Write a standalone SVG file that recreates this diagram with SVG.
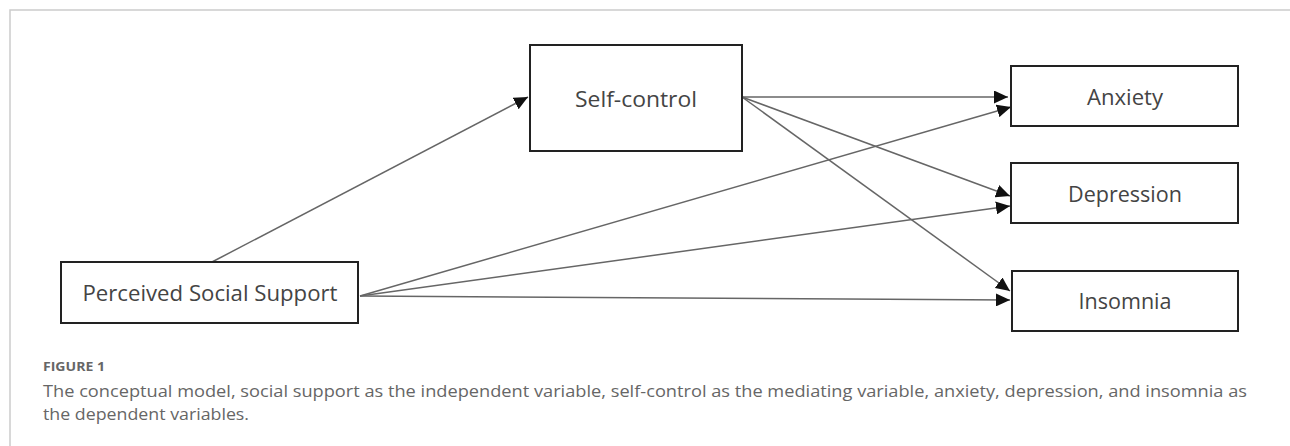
<svg xmlns="http://www.w3.org/2000/svg" width="1290" height="446" viewBox="0 0 1290 446">
<defs>
<marker id="ah" markerUnits="userSpaceOnUse" markerWidth="15" markerHeight="13" refX="14" refY="6.5" orient="auto">
<path d="M0,0 L14,6.5 L0,13 z" fill="#111"/>
</marker>
<style>
.box{fill:#fff;stroke:#222;stroke-width:2}
.lbl{font-family:"Open Sans","Noto Sans",sans-serif;font-size:22px;fill:#444;text-anchor:middle}
.edge{stroke:#666;stroke-width:1.5;fill:none;marker-end:url(#ah)}
.frame{stroke:#ccc;stroke-width:1.5;fill:none}
.cap{font-family:"Open Sans","Noto Sans",sans-serif;font-size:17px;fill:#666}
.fig{font-family:"Open Sans","Noto Sans",sans-serif;font-size:13px;font-weight:bold;fill:#666}
</style>
</defs>
<rect width="1290" height="446" fill="#fff"/>
<path class="frame" d="M10,446 L10,10 L1290,10"/>
<g id="connectors">
<line class="edge" x1="212" y1="262" x2="528" y2="97"/>
<line class="edge" x1="742" y1="97" x2="1008" y2="97"/>
<line class="edge" x1="742" y1="97" x2="1010" y2="196"/>
<line class="edge" x1="742" y1="97" x2="1010" y2="291"/>
<line class="edge" x1="360" y1="296" x2="1011" y2="107"/>
<line class="edge" x1="360" y1="296" x2="1010" y2="206"/>
<line class="edge" x1="360" y1="296" x2="1010" y2="300"/>
</g>
<g id="pss">
<rect class="box" x="61" y="262" width="297" height="61"/>
<text class="lbl" x="210" y="301" textLength="255" lengthAdjust="spacingAndGlyphs">Perceived Social Support</text>
</g>
<g id="selfcontrol">
<rect class="box" x="530" y="45" width="212" height="106"/>
<text class="lbl" x="636" y="107" textLength="122" lengthAdjust="spacingAndGlyphs">Self-control</text>
</g>
<g id="anxiety">
<rect class="box" x="1011" y="66" width="227" height="60"/>
<text class="lbl" x="1125" y="105" textLength="76" lengthAdjust="spacingAndGlyphs">Anxiety</text>
</g>
<g id="depression">
<rect class="box" x="1011" y="163" width="227" height="60"/>
<text class="lbl" x="1125" y="202" textLength="114" lengthAdjust="spacingAndGlyphs">Depression</text>
</g>
<g id="insomnia">
<rect class="box" x="1012" y="271" width="226" height="60"/>
<text class="lbl" x="1125" y="309" textLength="93" lengthAdjust="spacingAndGlyphs">Insomnia</text>
</g>
<g id="caption">
<text class="fig" x="43" y="371" textLength="62" lengthAdjust="spacingAndGlyphs">FIGURE 1</text>
<text class="cap" x="43" y="397" textLength="1204" lengthAdjust="spacingAndGlyphs">The conceptual model, social support as the independent variable, self-control as the mediating variable, anxiety, depression, and insomnia as</text>
<text class="cap" x="43" y="420" textLength="206" lengthAdjust="spacingAndGlyphs">the dependent variables.</text>
</g>
</svg>
